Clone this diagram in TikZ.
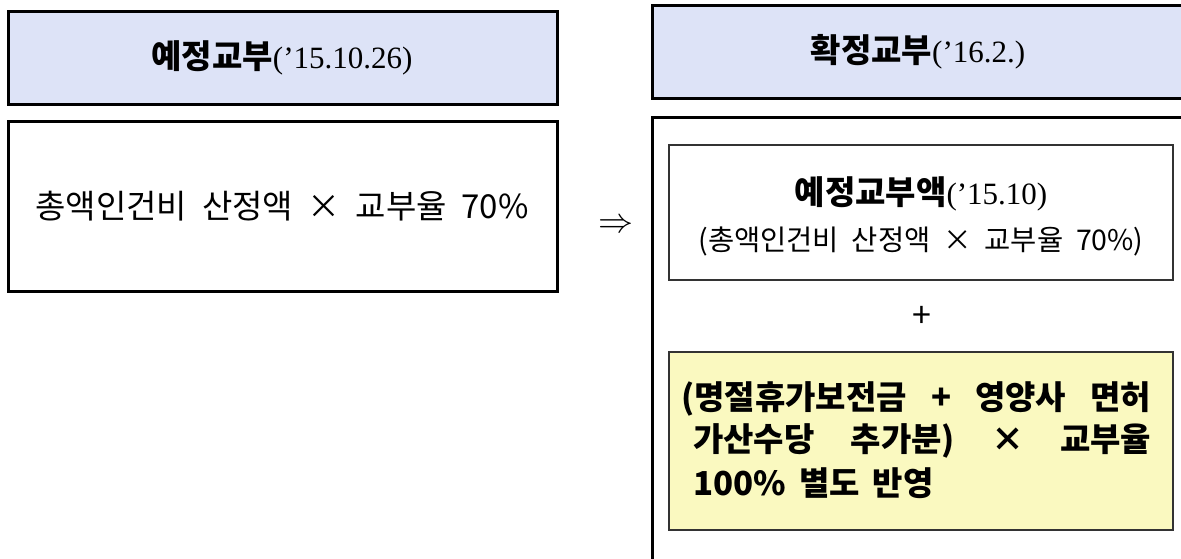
\documentclass[tikz,border=0pt]{standalone}
\usepackage{fontspec}
\setmainfont{Noto Sans CJK KR}
\newfontfamily\numfont{Liberation Serif}
\definecolor{hdrfill}{HTML}{DDE3F7}
\definecolor{yelfill}{HTML}{FAF9C0}
\begin{document}
\begin{tikzpicture}[x=1pt,y=-1pt,
  thickbox/.style={draw=black,line width=3pt},
  thinbox/.style={draw=black!80,line width=1.2pt},
  txt/.style={inner sep=0pt,anchor=center}]
\useasboundingbox (0,0) rectangle (1181,558);
% left column
\path[thickbox,fill=hdrfill] (8,11) rectangle (557,104);
\path[thickbox] (8,121) rectangle (557,291);
\node[txt] (lh) at (282,58) {\fontsize{33}{38}\selectfont\bfseries 예정교부\fontsize{31}{36}\selectfont\mdseries\numfont(’15.10.26)};
\node[txt] (lb) at (282,206) {\fontsize{33}{38}\selectfont 총액인건비\ \ 산정액\ \ ×\ \ 교부율\ \ 70\%};
% arrow
\node[txt] (arr) at (616,226) {\resizebox{35pt}{!}{$\Rightarrow$}};
% right column
\path[thickbox,fill=hdrfill] (652,5) rectangle (1195,98);
\path[thickbox] (652,564) -- (652,117) -- (1195,117);
\node[txt] (rh) at (918,52) {\fontsize{33}{38}\selectfont\bfseries 확정교부\fontsize{31}{36}\selectfont\mdseries\numfont(’16.2.)};
\path[thinbox,fill=white] (669,145) rectangle (1173,280);
\node[txt] (r1) at (921,194) {\fontsize{33}{38}\selectfont\bfseries 예정교부액\fontsize{31}{36}\selectfont\mdseries\numfont(’15.10)};
\node[txt] (r2) at (921,241) {\fontsize{28.5}{32}\selectfont(총액인건비\ \ 산정액\ \ ×\ \ 교부율\ \ 70\%)};
\node[txt] (plus) at (922,317) {\fontsize{34}{38}\selectfont +};
\path[thinbox,fill=yelfill] (669,352) rectangle (1173,530);
\node[txt,anchor=west] (y1) at (681,399) {\fontsize{33}{38}\selectfont\bfseries\hbox to 470pt{(명절휴가보전금\hfill +\hfill 영양사\hfill 면허}};
\node[txt,anchor=west] (y2) at (693,441) {\fontsize{33}{38}\selectfont\bfseries\hbox to 458pt{가산수당\hfill 추가분)\hfill ×\hfill 교부율}};
\node[txt,anchor=west] (y3) at (693,483) {\fontsize{33}{38}\selectfont\bfseries 100\%\ \,별도\ \,반영};
\end{tikzpicture}
\end{document}
